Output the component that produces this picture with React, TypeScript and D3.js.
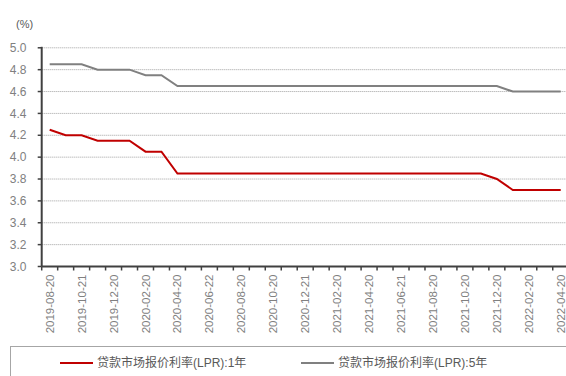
import React from "react";
import * as d3 from "d3";

const categories = [
  "2019-08-20","2019-09-20","2019-10-21","2019-11-20","2019-12-20","2020-01-20",
  "2020-02-20","2020-03-20","2020-04-20","2020-05-20","2020-06-22","2020-07-20",
  "2020-08-20","2020-09-21","2020-10-20","2020-11-20","2020-12-21","2021-01-20",
  "2021-02-20","2021-03-22","2021-04-20","2021-05-20","2021-06-21","2021-07-20",
  "2021-08-20","2021-09-22","2021-10-20","2021-11-22","2021-12-20","2022-01-20",
  "2022-02-20","2022-03-21","2022-04-20",
];
const lpr1y = [
  4.25,4.20,4.20,4.15,4.15,4.15,4.05,4.05,3.85,3.85,3.85,3.85,
  3.85,3.85,3.85,3.85,3.85,3.85,3.85,3.85,3.85,3.85,3.85,3.85,
  3.85,3.85,3.85,3.85,3.80,3.70,3.70,3.70,3.70,
];
const lpr5y = [
  4.85,4.85,4.85,4.80,4.80,4.80,4.75,4.75,4.65,4.65,4.65,4.65,
  4.65,4.65,4.65,4.65,4.65,4.65,4.65,4.65,4.65,4.65,4.65,4.65,
  4.65,4.65,4.65,4.65,4.65,4.60,4.60,4.60,4.60,
];
const yTicks = [3.0, 3.2, 3.4, 3.6, 3.8, 4.0, 4.2, 4.4, 4.6, 4.8, 5.0];
const seriesNames = ["贷款市场报价利率(LPR):1年", "贷款市场报价利率(LPR):5年"];
const seriesColors = ["#c00000", "#808080"];

export default function App() {
  const W = 566, H = 376;
  const left = 41.7, bandW = 15.97;
  const x = d3.scaleBand<string>().domain(categories).range([left, left + bandW * categories.length]).padding(0);
  const y = d3.scaleLinear().domain([3.0, 5.0]).range([266.5, 47.8]);
  const cx = (c: string) => (x(c) as number) + x.bandwidth() / 2;
  const line = d3.line<number>().x((_, i) => cx(categories[i])).y((d) => y(d));
  const font = "'Liberation Sans', Arial, sans-serif";
  const labelCats = categories.filter((_, i) => i % 2 === 0);
  const boundaries = categories.map((c) => x(c) as number).concat([left + bandW * categories.length]);

  return (
    <svg width={W} height={H} style={{ position: "absolute", left: 0, top: 0, background: "#fff" }} fontFamily={font}>
      <text x={16} y={28} fontSize={11} fill="#595959">(%)</text>
      {yTicks.filter((t) => t !== 3.0).map((t) => (
        <line key={"g" + t} x1={left} x2={W} y1={y(t)} y2={y(t)} stroke="#a0a0a0" strokeWidth={1} strokeDasharray="1,1" />
      ))}
      {yTicks.map((t) => (
        <g key={"y" + t}>
          <line x1={left - 4} x2={left} y1={y(t)} y2={y(t)} stroke="#404040" strokeWidth={1.5} />
          <text x={26.5} y={y(t)} dy="0.35em" textAnchor="end" fontSize={12} fill="#808080">{t.toFixed(1)}</text>
        </g>
      ))}
      <line x1={left} x2={left} y1={y(5.0) - 1} y2={y(3.0)} stroke="#404040" strokeWidth={2} />
      <line x1={left} x2={W} y1={y(3.0)} y2={y(3.0)} stroke="#404040" strokeWidth={2} />
      {boundaries.map((b, i) => (
        <line key={"xt" + i} x1={b} x2={b} y1={y(3.0)} y2={y(3.0) + 4} stroke="#404040" strokeWidth={1.5} />
      ))}
      {labelCats.map((c) => (
        <text key={"xl" + c} transform={`translate(${cx(c)},${274.5}) rotate(-90)`} dy="0.35em" textAnchor="end" fontSize={11.5} fill="#808080">{c}</text>
      ))}
      <path d={line(lpr5y) || ""} fill="none" stroke={seriesColors[1]} strokeWidth={2} />
      <path d={line(lpr1y) || ""} fill="none" stroke={seriesColors[0]} strokeWidth={2} />
      <rect x={10.5} y={346.5} width={W} height={40} fill="none" stroke="#a6a6a6" strokeWidth={1} />
      {[0, 1].map((i) => {
        const lx = i === 0 ? 60 : 301;
        return (
          <g key={"lg" + i}>
            <line x1={lx} x2={lx + 33} y1={363} y2={363} stroke={seriesColors[i]} strokeWidth={2} />
            <text x={lx + 37} y={363} dy="0.35em" fontSize={12} fill="#595959" fontFamily="'Liberation Sans', 'Noto Sans CJK SC', sans-serif">{seriesNames[i]}</text>
          </g>
        );
      })}
    </svg>
  );
}
